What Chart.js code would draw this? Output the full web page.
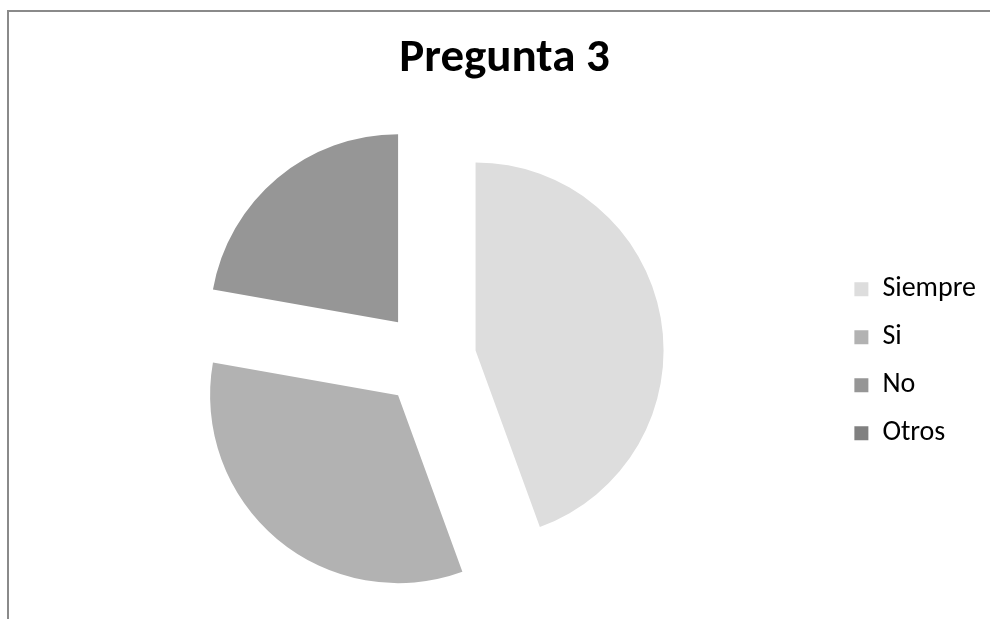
<!DOCTYPE html>
<html>
<head>
<meta charset="utf-8">
<script src="https://cdn.jsdelivr.net/npm/chart.js@4"></script>
<style>
  html, body { margin: 0; padding: 0; background: #fff; overflow: hidden; width: 990px; height: 619px; }
  #frame { position: absolute; left: 7px; top: 10px; width: 1100px; height: 800px;
           border-left: 2px solid #8a8a8a; border-top: 2px solid #8a8a8a; }
  #wrap { position: absolute; left: 8px; top: 10px; width: 995px; height: 620px; }
</style>
</head>
<body>
<div id="frame"></div>
<div id="wrap"><canvas id="chart"></canvas></div>
<script>
// Responses to question 3
const categories = ['Siempre', 'Si', 'No', 'Otros'];
const answers = [20, 15, 10, 0];
const sliceColors = ['#dddddd', '#b2b2b2', '#969696', '#808080'];

const PIE_RADIUS = 188;
const EXPLODE = 47.6;

// Pull every slice away from the centre along its bisector.
const explodeSlices = {
  id: 'explodeSlices',
  afterDatasetUpdate(chart, args) {
    args.meta.data.forEach(arc => {
      const mid = (arc.startAngle + arc.endAngle) / 2;
      arc.x += Math.cos(mid) * EXPLODE;
      arc.y += Math.sin(mid) * EXPLODE;
    });
  }
};

new Chart(document.getElementById('chart'), {
  type: 'pie',
  data: {
    labels: categories,
    datasets: [{
      data: answers,
      backgroundColor: sliceColors,
      borderWidth: 0
    }]
  },
  options: {
    responsive: true,
    maintainAspectRatio: false,
    animation: false,
    radius: PIE_RADIUS,
    layout: { padding: { left: 15, right: 17, top: 0, bottom: 0 } },
    plugins: {
      title: {
        display: true,
        text: 'Pregunta 3',
        color: '#000',
        font: { family: 'Carlito, Lato, sans-serif', size: 47, weight: 'bold', lineHeight: 1.2 },
        padding: { top: 21, bottom: 0 }
      },
      legend: {
        position: 'right',
        // empty heading keeps the key centred beside the pie
        title: { display: true, text: '', font: { size: 12 }, padding: { top: 34, bottom: 34 } },
        labels: {
          color: '#000',
          boxWidth: 14,
          boxHeight: 14,
          padding: 20,
          font: { family: 'Carlito, Lato, sans-serif', size: 28 }
        }
      },
      tooltip: { enabled: false }
    }
  },
  plugins: [explodeSlices]
});
</script>
</body>
</html>
